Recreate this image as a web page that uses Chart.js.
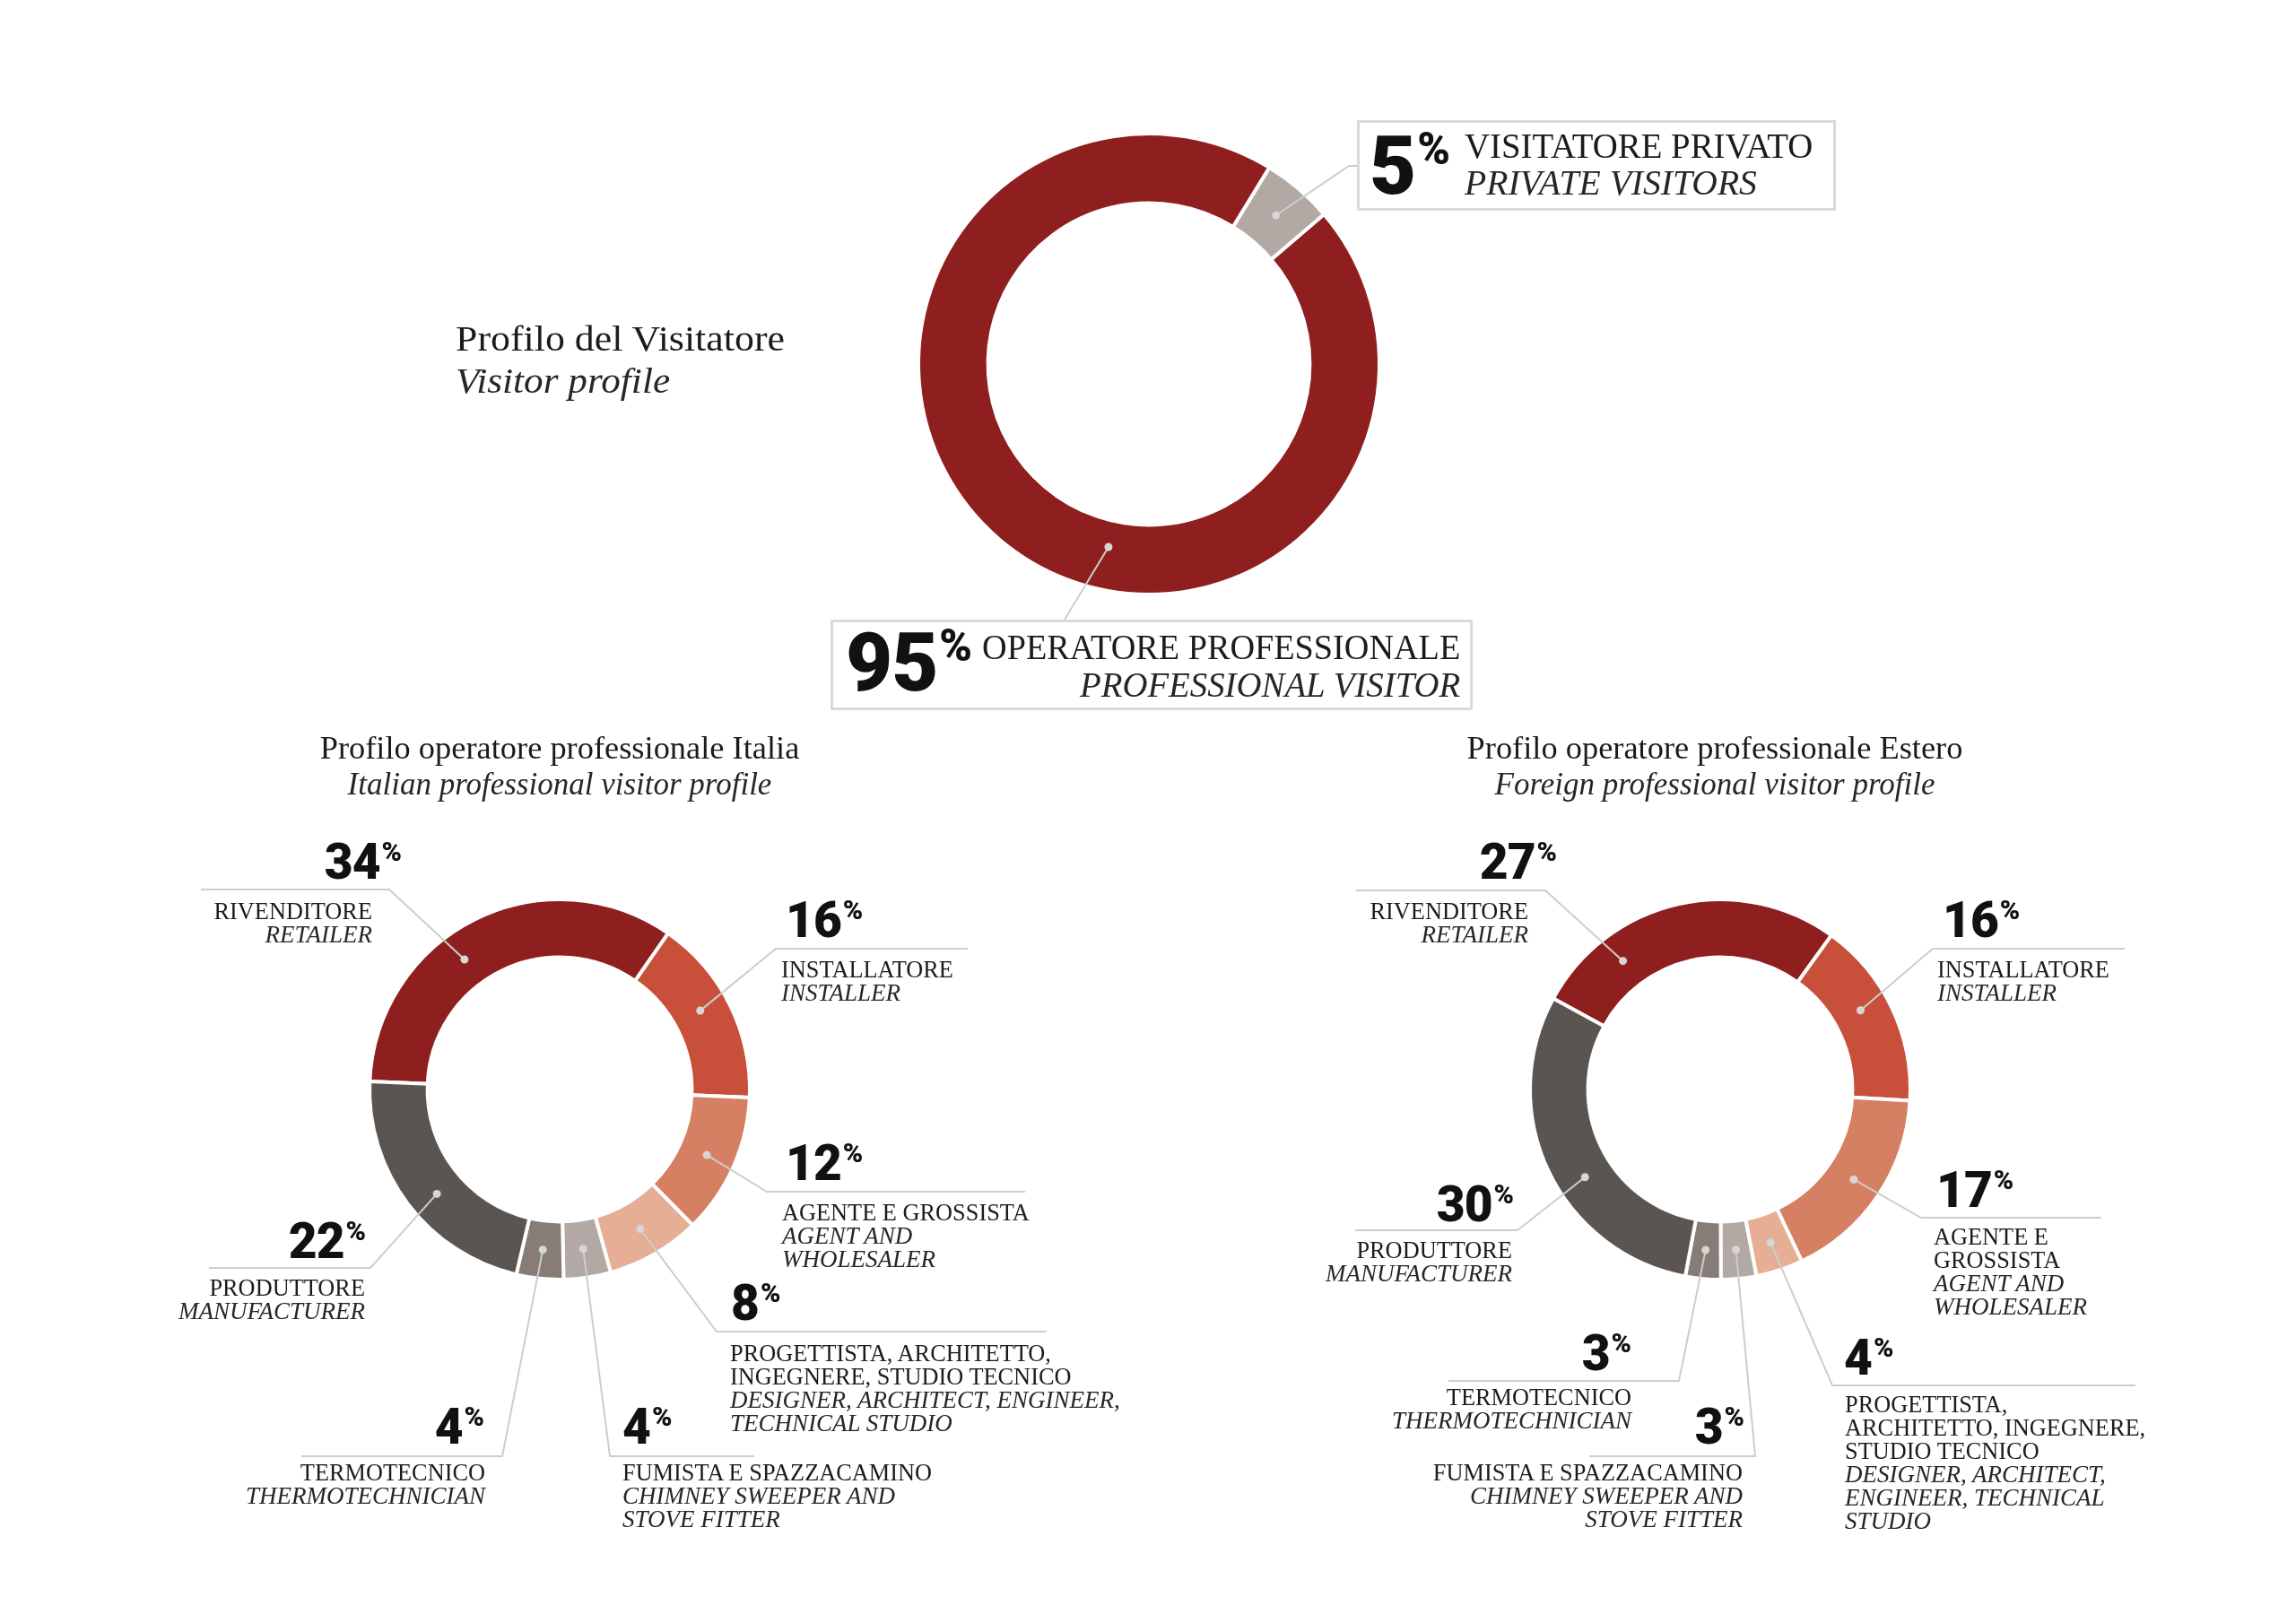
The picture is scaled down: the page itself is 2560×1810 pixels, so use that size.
<!DOCTYPE html>
<html>
<head>
<meta charset="utf-8">
<title>Profilo del Visitatore</title>
<script src="https://cdn.jsdelivr.net/npm/chart.js@4.4.1/dist/chart.umd.min.js"></script>
<style>
  html, body { margin: 0; padding: 0; background: #fff; }
  #page { position: relative; width: 2560px; height: 1810px; overflow: hidden; }
  #page canvas { position: absolute; left: 0; top: 0; }
  .txt { position: absolute; white-space: nowrap; color: #1b1b1b; font-family: "Liberation Serif", "DejaVu Serif", serif; z-index: 2; }
  .it { font-style: italic; color: #262626; }
  .num { position: absolute; display: flex; align-items: flex-start; font-family: Roboto, "Liberation Sans", sans-serif; font-weight: 900; color: #111; z-index: 2; letter-spacing: -1px; }
  .box { position: absolute; border: 3px solid #dadada; box-sizing: border-box; z-index: 1; }
</style>
</head>
<body>
<div id="page">
  <canvas id="visitorChart" width="2560" height="1810"></canvas>
  <canvas id="italyChart" width="2560" height="1810"></canvas>
  <canvas id="foreignChart" width="2560" height="1810"></canvas>
</div>
<script>
const W = 2560, H = 1810;

// top chart: visitor profile
const visitorLabels = ['VISITATORE PRIVATO', 'OPERATORE PROFESSIONALE'];
const visitorLabelsEn = ['PRIVATE VISITORS', 'PROFESSIONAL VISITOR'];
const visitorValues = [5, 95];
const visitorColors = ['#b2a9a4', '#8f1f1f'];

// bottom charts: professional visitors by category
const categories = [
  'RIVENDITORE',
  'INSTALLATORE',
  'AGENTE E GROSSISTA',
  'PROGETTISTA, ARCHITETTO, INGEGNERE, STUDIO TECNICO',
  'FUMISTA E SPAZZACAMINO',
  'TERMOTECNICO',
  'PRODUTTORE'
];
const categoriesEn = [
  'RETAILER',
  'INSTALLER',
  'AGENT AND WHOLESALER',
  'DESIGNER, ARCHITECT, ENGINEER, TECHNICAL STUDIO',
  'CHIMNEY SWEEPER AND STOVE FITTER',
  'THERMOTECHNICIAN',
  'MANUFACTURER'
];
const italyValues = [34, 16, 12, 8, 4, 4, 22];
const foreignValues = [27, 16, 17, 4, 3, 3, 30];
const categoryColors = ['#8f1f1f', '#c8503b', '#d58063', '#e6ae94', '#b2a9a4', '#877d76', '#5b5551'];

const mainTitle = ['Profilo del Visitatore', 'Visitor profile'];
const italyTitle = ['Profilo operatore professionale Italia', 'Italian professional visitor profile'];
const foreignTitle = ['Profilo operatore professionale Estero', 'Foreign professional visitor profile'];

const page = document.getElementById('page');
const ASC = 0.891, DESC = 0.216;

// lines: [{text, italic}], o: {size, lh, align, sx (roman), si (italic)}
function addText(lines, x, baseline, o) {
  const fs = o.size, lh = o.lh || fs;
  const el = document.createElement('div');
  el.className = 'txt';
  el.style.fontSize = fs + 'px';
  el.style.lineHeight = lh + 'px';
  el.style.top = (baseline - (lh - (ASC + DESC) * fs) / 2 - ASC * fs) + 'px';
  let origin = 'left top';
  if (o.align === 'right') {
    el.style.right = (W - x) + 'px';
    el.style.textAlign = 'right';
    origin = 'right top';
  } else if (o.align === 'center') {
    el.style.left = (x - 600) + 'px';
    el.style.width = '1200px';
    el.style.textAlign = 'center';
    origin = 'center top';
  } else {
    el.style.left = x + 'px';
  }
  lines.forEach(l => {
    const d = document.createElement('div');
    d.textContent = l.text;
    if (l.italic) d.className = 'it';
    const s = l.italic ? (o.si || 1) : (o.sx || 1);
    if (s !== 1) {
      d.style.transform = 'scaleX(' + s + ')';
      d.style.transformOrigin = origin;
    }
    el.appendChild(d);
  });
  page.appendChild(el);
}

function addNumber(value, x, baseline, align, F) {
  const f = 0.55 * F;
  const el = document.createElement('div');
  el.className = 'num';
  el.style.top = (baseline - 0.711 * F) + 'px';
  if (align === 'right') el.style.right = (W - x) + 'px';
  else el.style.left = x + 'px';
  const a = document.createElement('span');
  a.textContent = value;
  a.style.fontSize = F + 'px';
  a.style.lineHeight = (0.711 * F) + 'px';
  const b = document.createElement('span');
  b.textContent = '%';
  b.style.fontSize = f + 'px';
  b.style.lineHeight = (0.711 * f) + 'px';
  b.style.marginLeft = '2px';
  b.style.position = 'relative';
  b.style.top = (-0.06 * F) + 'px';
  el.appendChild(a);
  el.appendChild(b);
  page.appendChild(el);
}

function addBox(x, y, w, h) {
  const el = document.createElement('div');
  el.className = 'box';
  el.style.left = x + 'px';
  el.style.top = y + 'px';
  el.style.width = w + 'px';
  el.style.height = h + 'px';
  page.appendChild(el);
}

function wrap(str, counts) {
  if (!counts) return [str];
  const w = str.split(' ');
  const out = [];
  let k = 0;
  counts.forEach(c => { out.push(w.slice(k, k + c).join(' ')); k += c; });
  return out;
}

// leader lines: dot on the slice (angle fraction frac, ring fraction rf) then polyline
function leaders(items) {
  return {
    id: 'leaders',
    afterDatasetsDraw(chart) {
      const ctx = chart.ctx;
      const arcs = chart.getDatasetMeta(0).data;
      ctx.save();
      items.forEach(it => {
        const p = arcs[it.i].getProps(['x', 'y', 'startAngle', 'endAngle', 'innerRadius', 'outerRadius'], true);
        const ang = p.startAngle + (it.frac == null ? 0.5 : it.frac) * (p.endAngle - p.startAngle);
        const rr = p.innerRadius + (it.rf == null ? 0.5 : it.rf) * (p.outerRadius - p.innerRadius);
        const dx = p.x + Math.cos(ang) * rr;
        const dy = p.y + Math.sin(ang) * rr;
        ctx.strokeStyle = '#cdcdcd';
        ctx.lineWidth = 2;
        ctx.beginPath();
        ctx.moveTo(dx, dy);
        it.line.forEach(pt => ctx.lineTo(pt[0], pt[1]));
        ctx.stroke();
        ctx.fillStyle = '#d6d6d6';
        ctx.beginPath();
        ctx.arc(dx, dy, 4.5, 0, Math.PI * 2);
        ctx.fill();
      });
      ctx.restore();
    }
  };
}

function donut(id, labels, values, colors, cx, cy, radius, cutout, rotation, items) {
  return new Chart(document.getElementById(id), {
    type: 'doughnut',
    data: {
      labels: labels,
      datasets: [{
        data: values,
        backgroundColor: colors,
        borderColor: '#ffffff',
        borderWidth: 4,
        hoverOffset: 0
      }]
    },
    options: {
      responsive: false,
      animation: false,
      devicePixelRatio: 1,
      events: [],
      radius: radius,
      cutout: cutout,
      rotation: rotation,
      layout: { padding: { left: cx - radius, right: W - cx - radius, top: cy - radius, bottom: H - cy - radius } },
      plugins: { legend: { display: false }, tooltip: { enabled: false } }
    },
    plugins: [leaders(items)]
  });
}

// ---- top chart
const visitorLayout = [
  { i: 0, frac: 0.5, line: [[1504, 185], [1513, 185]] },
  { i: 1, frac: 0.418, rf: 0.38, line: [[1187, 691]] }
];
donut('visitorChart', visitorLabels, visitorValues, visitorColors, 1281, 406, 257, 178, 31.5, visitorLayout);

addText([{ text: mainTitle[0] }, { text: mainTitle[1], italic: true }], 508, 391, { size: 41, lh: 47, sx: 1.07, si: 1.055 });

addBox(1513, 134, 534, 101);
addNumber(visitorValues[0], 1527, 218, 'left', 90);
addText([{ text: visitorLabels[0] }, { text: visitorLabelsEn[0], italic: true }], 1633, 176, { size: 40, lh: 41, sx: 0.97, si: 0.99 });

addBox(926, 691, 716, 101);
addNumber(visitorValues[1], 943, 772, 'left', 90);
addText([{ text: visitorLabels[1] }, { text: visitorLabelsEn[1], italic: true }], 1628, 735, { size: 40, lh: 42, sx: 0.955, si: 0.97, align: 'right' });

// ---- bottom charts
const italyLayout = [
  { i: 0, frac: 0.42, align: 'right', line: [[434, 992], [224, 992]], num: [447, 981], text: [415, 1025] },
  { i: 1, frac: 0.45, align: 'left', line: [[865, 1058], [1079, 1058]], num: [876, 1046], text: [871, 1090] },
  { i: 2, frac: 0.5, align: 'left', line: [[855, 1329], [1143, 1329]], num: [876, 1317], text: [872, 1361], en: [2, 1] },
  { i: 3, frac: 0.5, align: 'left', line: [[799, 1485], [1167, 1485]], num: [815, 1473], text: [814, 1518], it: [2, 3], en: [3, 2] },
  { i: 4, frac: 0.5, align: 'left', line: [[680, 1624], [841, 1624]], num: [694, 1611], text: [694, 1651], en: [3, 2] },
  { i: 5, frac: 0.5, align: 'right', line: [[560, 1624], [336, 1624]], num: [539, 1611], text: [541, 1651] },
  { i: 6, frac: 0.46, align: 'right', line: [[413, 1414], [233, 1414]], num: [407, 1404], text: [407, 1445] }
];
const foreignLayout = [
  { i: 0, frac: 0.25, align: 'right', line: [[1723, 993], [1512, 993]], num: [1735, 981], text: [1704, 1025] },
  { i: 1, frac: 0.43, align: 'left', line: [[2155, 1058], [2369, 1058]], num: [2166, 1046], text: [2160, 1090] },
  { i: 2, frac: 0.5, align: 'left', line: [[2142, 1358], [2343, 1358]], num: [2159, 1347], text: [2156, 1388], it: [2, 1], en: [2, 1] },
  { i: 3, frac: 0.5, align: 'left', line: [[2043, 1545], [2381, 1545]], num: [2056, 1534], text: [2057, 1575], it: [1, 2, 2], en: [2, 2, 1] },
  { i: 4, frac: 0.5, align: 'right', line: [[1957, 1624], [1772, 1624]], num: [1944, 1611], text: [1943, 1651], en: [3, 2] },
  { i: 5, frac: 0.5, align: 'right', line: [[1872, 1540], [1615, 1540]], num: [1818, 1529], text: [1819, 1567] },
  { i: 6, frac: 0.43, align: 'right', line: [[1692, 1372], [1511, 1372]], num: [1687, 1363], text: [1686, 1403] }
];

donut('italyChart', categories, italyValues, categoryColors, 624, 1215, 212, 146, -87.6, italyLayout);
donut('foreignChart', categories, foreignValues, categoryColors, 1918, 1215, 212, 146, -61.4, foreignLayout);

function labelSet(values, layout) {
  layout.forEach(l => {
    addNumber(values[l.i], l.num[0], l.num[1], l.align, 55);
    const lines = wrap(categories[l.i], l.it).map(t => ({ text: t }))
      .concat(wrap(categoriesEn[l.i], l.en).map(t => ({ text: t, italic: true })));
    addText(lines, l.text[0], l.text[1], { size: 27, lh: 26, sx: 0.975, si: 1.0, align: l.align });
  });
}
labelSet(italyValues, italyLayout);
labelSet(foreignValues, foreignLayout);

addText([{ text: italyTitle[0] }, { text: italyTitle[1], italic: true }], 624, 847, { size: 35, lh: 40, sx: 1.04, align: 'center' });
addText([{ text: foreignTitle[0] }, { text: foreignTitle[1], italic: true }], 1912, 847, { size: 35, lh: 40, sx: 1.04, align: 'center' });
</script>
</body>
</html>
